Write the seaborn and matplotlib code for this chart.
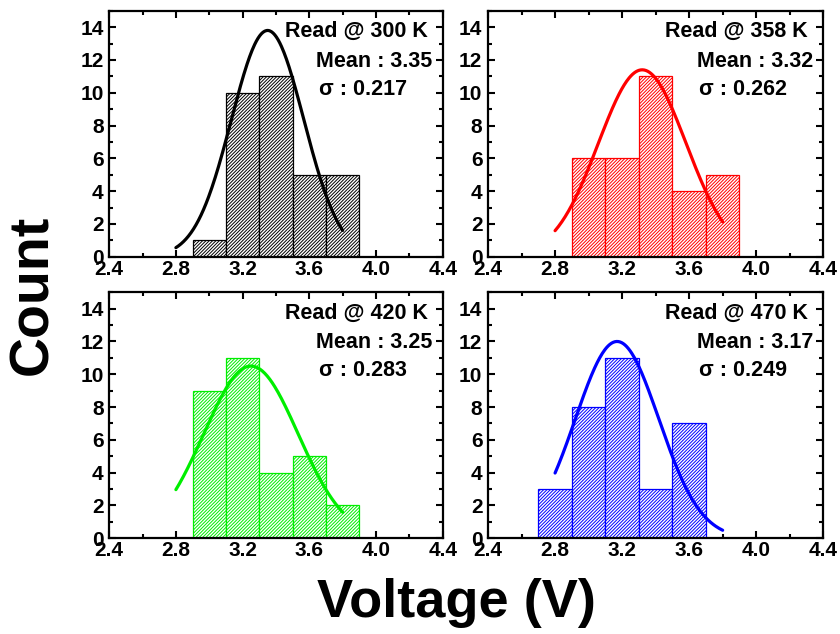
import numpy as np
import pandas as pd
import matplotlib
matplotlib.use("Agg")
import matplotlib.pyplot as plt
from matplotlib.ticker import MultipleLocator
import seaborn as sns

# Histogram bins (V) and counts for each read temperature
edges_a = [2.9, 3.1, 3.3, 3.5, 3.7, 3.9]
edges_d = [2.7, 2.9, 3.1, 3.3, 3.5, 3.7]
counts_300 = [1, 10, 11, 5, 5]
counts_358 = [6, 6, 11, 4, 5]
counts_420 = [9, 11, 4, 5, 2]
counts_470 = [3, 8, 11, 3, 7]

# Gaussian fit parameters: mean, sigma, peak height
labels = ["300 K", "358 K", "420 K", "470 K"]
means = [3.35, 3.32, 3.25, 3.17]
sigmas = [0.217, 0.262, 0.283, 0.249]
peaks = [13.8, 11.4, 10.5, 12.0]
fit_range = (2.8, 3.8)

colors = ["#000000", "#ff0000", "#00ee00", "#0000ff"]
all_edges = [edges_a, edges_a, edges_a, edges_d]
all_counts = [counts_300, counts_358, counts_420, counts_470]

sns.set_theme(style="white")
plt.rcParams["font.family"] = ["Liberation Sans", "DejaVu Sans"]
plt.rcParams["font.weight"] = "bold"
plt.rcParams["text.color"] = "black"
plt.rcParams["hatch.linewidth"] = 0.7

fig = plt.figure(figsize=(8.4, 6.34), dpi=100)
boxes = [
    (0.130, 0.595, 0.397, 0.388),
    (0.581, 0.595, 0.399, 0.388),
    (0.130, 0.151, 0.397, 0.388),
    (0.581, 0.151, 0.399, 0.388),
]

for i, box in enumerate(boxes):
    ax = fig.add_axes(box)
    edges = list(all_edges[i])
    centers = [(a + b) / 2 for a, b in zip(edges[:-1], edges[1:])]
    df = pd.DataFrame({"v": centers, "n": all_counts[i]})
    c = colors[i]
    sns.histplot(data=df, x="v", weights="n", bins=edges, ax=ax,
                 color="white", edgecolor=c, linewidth=0.9, alpha=1.0)
    for p in ax.patches:
        p.set_hatch("//////////")
        p.set_facecolor("white")
        p.set_edgecolor(c)

    xs = np.linspace(fit_range[0], fit_range[1], 200)
    ys = peaks[i] * np.exp(-(xs - means[i]) ** 2 / (2 * sigmas[i] ** 2))
    sns.lineplot(x=xs, y=ys, ax=ax, color=c, linewidth=2.3)

    ax.set_xlim(2.4, 4.4)
    ax.set_ylim(0, 15)
    ax.xaxis.set_major_locator(MultipleLocator(0.4))
    ax.xaxis.set_minor_locator(MultipleLocator(0.2))
    ax.yaxis.set_major_locator(MultipleLocator(2))
    ax.yaxis.set_minor_locator(MultipleLocator(1))
    ax.tick_params(which="both", direction="in", top=True, right=True,
                   bottom=True, left=True, width=1.5, colors="black")
    ax.tick_params(which="major", length=5, labelsize=15)
    ax.tick_params(axis="y", which="major", pad=4)
    ax.tick_params(axis="x", which="major", pad=2)
    ax.tick_params(which="minor", length=3)
    ax.set_xticks(ax.get_xticks())
    ax.set_xticklabels([f"{v:.1f}" for v in ax.get_xticks()], fontweight="bold")
    ax.set_yticks(ax.get_yticks())
    ax.set_yticklabels([f"{int(round(v))}" for v in ax.get_yticks()], fontweight="bold")
    ax.set_xlim(2.4, 4.4)
    ax.set_ylim(0, 15)
    ax.set_xlabel("")
    ax.set_ylabel("")
    for s in ax.spines.values():
        s.set_linewidth(1.6)
        s.set_color("black")

    tk = dict(transform=ax.transAxes, fontsize=15.5, fontweight="bold",
              va="center", color="black")
    ax.text(0.955, 0.915, f"Read @ {labels[i]}", ha="right", **tk)
    ax.text(0.970, 0.794, f"Mean : {means[i]:.2f}", ha="right", **tk)
    ax.text(0.628, 0.680, f"σ : {sigmas[i]:.3f}", ha="left", **tk)

fig.text(0.039, 0.535, "Count", rotation=90, ha="center", va="center",
         fontsize=40, fontweight="bold", color="black")
fig.text(0.544, 0.027, "Voltage (V)", ha="center", va="baseline",
         fontsize=39, fontweight="bold", color="black")

fig.savefig("out.png", dpi=100)
